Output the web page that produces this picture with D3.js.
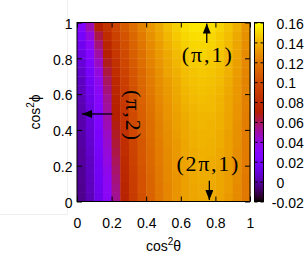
<!DOCTYPE html>
<html>
<head>
<meta charset="utf-8">
<script src="https://d3js.org/d3.v7.min.js"></script>
<style>
  body { margin: 0; background: #fff; }
  svg { display: block; }
</style>
</head>
<body>
<svg width="306" height="253"></svg>
<script>
// cell centres
var cosThetaCells = [0.025, 0.075, 0.125, 0.175, 0.225, 0.275, 0.325, 0.375, 0.425, 0.475,
                     0.525, 0.575, 0.625, 0.675, 0.725, 0.775, 0.825, 0.875, 0.925, 0.975];
// rows listed from top (cos^2 phi = 0.975) down to bottom
var cosPhiRows = [0.975, 0.925, 0.875, 0.825, 0.775, 0.725, 0.675, 0.625, 0.575, 0.525,
                  0.475, 0.425, 0.375, 0.325, 0.275, 0.225, 0.175, 0.125, 0.075, 0.025];
var zRows = [
  [0.026, 0.048, 0.070, 0.085, 0.097, 0.107, 0.116, 0.124, 0.131, 0.137, 0.143, 0.148, 0.152, 0.154, 0.154, 0.152, 0.149, 0.145, 0.139, 0.130],
  [0.020, 0.040, 0.062, 0.080, 0.094, 0.104, 0.113, 0.121, 0.129, 0.135, 0.141, 0.146, 0.150, 0.152, 0.152, 0.150, 0.147, 0.143, 0.137, 0.129],
  [0.015, 0.033, 0.056, 0.075, 0.090, 0.101, 0.111, 0.119, 0.127, 0.133, 0.139, 0.144, 0.148, 0.150, 0.150, 0.149, 0.146, 0.142, 0.136, 0.128],
  [0.012, 0.028, 0.050, 0.071, 0.087, 0.099, 0.109, 0.117, 0.125, 0.132, 0.137, 0.142, 0.146, 0.148, 0.149, 0.147, 0.145, 0.141, 0.135, 0.127],
  [0.009, 0.024, 0.045, 0.067, 0.084, 0.097, 0.107, 0.116, 0.124, 0.130, 0.136, 0.141, 0.145, 0.147, 0.147, 0.146, 0.144, 0.140, 0.134, 0.126],
  [0.007, 0.020, 0.040, 0.063, 0.081, 0.095, 0.105, 0.114, 0.122, 0.129, 0.135, 0.139, 0.143, 0.145, 0.146, 0.145, 0.143, 0.139, 0.133, 0.125],
  [0.005, 0.017, 0.036, 0.059, 0.078, 0.093, 0.104, 0.113, 0.121, 0.128, 0.133, 0.138, 0.142, 0.144, 0.145, 0.144, 0.142, 0.138, 0.132, 0.124],
  [0.004, 0.015, 0.033, 0.056, 0.076, 0.091, 0.102, 0.112, 0.120, 0.127, 0.132, 0.137, 0.141, 0.143, 0.144, 0.143, 0.141, 0.137, 0.131, 0.124],
  [0.003, 0.013, 0.030, 0.053, 0.074, 0.089, 0.101, 0.111, 0.119, 0.126, 0.131, 0.136, 0.140, 0.142, 0.143, 0.142, 0.140, 0.136, 0.131, 0.123],
  [0.002, 0.011, 0.028, 0.051, 0.072, 0.088, 0.100, 0.110, 0.118, 0.125, 0.130, 0.135, 0.139, 0.141, 0.142, 0.142, 0.140, 0.136, 0.130, 0.123],
  [0.001, 0.010, 0.026, 0.049, 0.070, 0.086, 0.099, 0.109, 0.117, 0.124, 0.130, 0.134, 0.138, 0.140, 0.141, 0.141, 0.139, 0.135, 0.130, 0.122],
  [0.001, 0.009, 0.024, 0.047, 0.068, 0.085, 0.098, 0.108, 0.116, 0.123, 0.129, 0.134, 0.137, 0.140, 0.141, 0.140, 0.139, 0.135, 0.129, 0.122],
  [0.000, 0.008, 0.022, 0.045, 0.066, 0.084, 0.097, 0.107, 0.116, 0.123, 0.128, 0.133, 0.137, 0.139, 0.140, 0.140, 0.138, 0.134, 0.129, 0.122],
  [0.000, 0.007, 0.021, 0.043, 0.064, 0.082, 0.096, 0.106, 0.115, 0.122, 0.128, 0.132, 0.136, 0.139, 0.140, 0.139, 0.138, 0.134, 0.129, 0.121],
  [-0.001, 0.006, 0.019, 0.041, 0.062, 0.081, 0.095, 0.106, 0.114, 0.121, 0.127, 0.132, 0.136, 0.138, 0.139, 0.139, 0.137, 0.134, 0.128, 0.121],
  [-0.001, 0.005, 0.018, 0.039, 0.060, 0.079, 0.094, 0.105, 0.114, 0.121, 0.127, 0.131, 0.135, 0.138, 0.139, 0.138, 0.137, 0.133, 0.128, 0.121],
  [-0.002, 0.005, 0.017, 0.037, 0.058, 0.078, 0.093, 0.104, 0.113, 0.120, 0.126, 0.131, 0.135, 0.137, 0.138, 0.138, 0.136, 0.133, 0.128, 0.121],
  [-0.002, 0.004, 0.016, 0.035, 0.056, 0.076, 0.092, 0.103, 0.112, 0.120, 0.126, 0.130, 0.134, 0.137, 0.138, 0.138, 0.136, 0.133, 0.128, 0.120],
  [-0.003, 0.004, 0.015, 0.034, 0.054, 0.075, 0.091, 0.103, 0.112, 0.119, 0.125, 0.130, 0.134, 0.136, 0.137, 0.137, 0.136, 0.133, 0.127, 0.120],
  [-0.003, 0.003, 0.014, 0.033, 0.053, 0.074, 0.090, 0.102, 0.111, 0.119, 0.125, 0.130, 0.134, 0.136, 0.137, 0.137, 0.135, 0.132, 0.127, 0.120]
];
var xTicks = [0, 0.2, 0.4, 0.6, 0.8, 1];
var xTickLabels = ["0", "0.2", "0.4", "0.6", "0.8", "1"];
var yTicks = [0, 0.2, 0.4, 0.6, 0.8, 1];
var yTickLabels = ["0", "0.2", "0.4", "0.6", "0.8", "1"];
var cbTicks = [-0.02, 0, 0.02, 0.04, 0.06, 0.08, 0.1, 0.12, 0.14, 0.16];
var cbTickLabels = ["-0.02", "0", "0.02", "0.04", "0.06", "0.08", "0.1", "0.12", "0.14", "0.16"];
var cbRange = [-0.02, 0.16];

// annotations: label, arrow tail, arrow tip, label anchor (data units), rotation
var notes = [
  {label: "(\u03c0,1)",  tail: [0.75, 0.885], tip: [0.75, 0.994], at: [0.75, 0.779], rot: 0, len: 50},
  {label: "(2\u03c0,1)", tail: [0.765, 0.116], tip: [0.765, 0.008], at: [0.754, 0.168], rot: 0, len: 62},
  {label: "(\u03c0,2)",  tail: [0.204, 0.489], tip: [0.029, 0.489], at: [0.283, 0.483], rot: 90, len: 50}
];

var svg = d3.select("svg");
var x = d3.scaleLinear().domain([0, 1]).range([77, 250]);
var y = d3.scaleLinear().domain([0, 1]).range([201.5, 22.5]);
var cbY = d3.scaleLinear().domain(cbRange).range([201.5, 22.5]);

// gnuplot default palette (rgbformulae 7,5,15)
function palette(t){
    t = Math.max(0, Math.min(1, t));
    var b = Math.max(0, Math.sin(2*Math.PI*t));
    return d3.rgb(255*Math.sqrt(t), 255*t*t*t, 255*b);
}
var color = d3.scaleSequential(palette).domain(cbRange).clamp(true);

// faint frame left over in the original picture
svg.append("path")
    .attr("d", "M67.5,0V214.5H0")
    .attr("fill", "none")
    .attr("stroke", "#efefef");

var halfW = (cosThetaCells[1] - cosThetaCells[0]) / 2;
var halfH = (cosPhiRows[0] - cosPhiRows[1]) / 2;
var cells = [];
zRows.forEach(function(row, r){
    row.forEach(function(v, c){
        cells.push({cx: cosThetaCells[c], cy: cosPhiRows[r], v: v});
    });
});
svg.append("g").selectAll("rect").data(cells).enter().append("rect")
    .attr("x", function(d){ return x(d.cx - halfW); })
    .attr("y", function(d){ return y(d.cy + halfH); })
    .attr("width", function(d){ return x(d.cx + halfW) - x(d.cx - halfW) + 0.4; })
    .attr("height", function(d){ return y(d.cy - halfH) - y(d.cy + halfH) + 0.4; })
    .attr("fill", function(d){ return color(d.v); });

// axes, inward ticks on all four sides
var font = "'Liberation Sans', Arial, Helvetica, sans-serif";
function styleAxis(g){
    g.select(".domain").remove();
    g.selectAll("line").attr("stroke", "#000");
    g.attr("font-family", font).attr("font-size", 14);
    g.selectAll("text").attr("fill", "#000");
}
svg.append("g").attr("transform", "translate(0,201.5)")
    .call(d3.axisBottom(x).tickValues(xTicks).tickSize(-5).tickPadding(16.5)
        .tickFormat(function(d, i){ return xTickLabels[i]; }))
    .call(styleAxis);
svg.append("g").attr("transform", "translate(0,22.5)")
    .call(d3.axisTop(x).tickValues(xTicks).tickSize(-5).tickFormat(""))
    .call(styleAxis);
svg.append("g").attr("transform", "translate(77,0)")
    .call(d3.axisLeft(y).tickValues(yTicks).tickSize(-5).tickPadding(4.5)
        .tickFormat(function(d, i){ return yTickLabels[i]; }))
    .call(styleAxis)
    .selectAll("text").attr("dy", "0.41em");
svg.append("g").attr("transform", "translate(250,0)")
    .call(d3.axisRight(y).tickValues(yTicks).tickSize(-5).tickFormat(""))
    .call(styleAxis);

svg.append("rect")
    .attr("x", x(0)).attr("y", y(1))
    .attr("width", x(1) - x(0)).attr("height", y(0) - y(1))
    .attr("fill", "none").attr("stroke", "#000").attr("stroke-width", 1);

// colour box
var grad = svg.append("defs").append("linearGradient")
    .attr("id", "cbgrad").attr("x1", 0).attr("y1", 1).attr("x2", 0).attr("y2", 0);
d3.range(0, 1.0001, 1/64).forEach(function(t){
    grad.append("stop").attr("offset", t).attr("stop-color", palette(t));
});
svg.append("rect")
    .attr("x", 254.5).attr("y", cbY(cbRange[1]))
    .attr("width", 9).attr("height", cbY(cbRange[0]) - cbY(cbRange[1]))
    .attr("fill", "url(#cbgrad)");
svg.append("g").attr("transform", "translate(263.5,0)")
    .call(d3.axisRight(cbY).tickValues(cbTicks).tickSize(-3).tickPadding(13)
        .tickFormat(function(d, i){ return cbTickLabels[i]; }))
    .call(styleAxis)
    .selectAll("text")
    .attr("dy", "0.41em")
    .attr("dx", function(d){ return d < 0 ? -4.7 : 0; });
svg.append("g").attr("transform", "translate(254.5,0)")
    .call(d3.axisLeft(cbY).tickValues(cbTicks).tickSize(-3).tickFormat(""))
    .call(styleAxis);
svg.append("rect")
    .attr("x", 254.5).attr("y", cbY(cbRange[1]))
    .attr("width", 9).attr("height", cbY(cbRange[0]) - cbY(cbRange[1]))
    .attr("fill", "none").attr("stroke", "#000");

// axis titles
var xl = svg.append("text")
    .attr("x", (x(0) + x(1)) / 2).attr("y", 250.5)
    .attr("text-anchor", "middle")
    .attr("font-family", font).attr("font-size", 14);
xl.append("tspan").text("cos");
xl.append("tspan").attr("font-size", 10).attr("dy", -6).text("2");
xl.append("tspan").attr("dy", 6).text("\u03b8");

var yl = svg.append("text")
    .attr("transform", "translate(40," + ((y(0) + y(1)) / 2) + ") rotate(-90)")
    .attr("text-anchor", "middle")
    .attr("font-family", font).attr("font-size", 14);
yl.append("tspan").text("cos");
yl.append("tspan").attr("font-size", 10).attr("dy", -6).text("2");
yl.append("tspan").attr("dy", 6).text("\u03d5");

// arrows and labels
svg.select("defs").append("marker")
    .attr("id", "head")
    .attr("markerUnits", "userSpaceOnUse")
    .attr("viewBox", "0 0 10 8")
    .attr("refX", 10).attr("refY", 4)
    .attr("markerWidth", 10).attr("markerHeight", 8)
    .attr("orient", "auto")
    .append("path").attr("d", "M0,0L10,4L0,8Z").attr("fill", "#000");

notes.forEach(function(n){
    svg.append("line")
        .attr("x1", x(n.tail[0])).attr("y1", y(n.tail[1]))
        .attr("x2", x(n.tip[0])).attr("y2", y(n.tip[1]))
        .attr("stroke", "#000").attr("stroke-width", 1.3)
        .attr("marker-end", "url(#head)");
    svg.append("text")
        .attr("transform", "translate(" + x(n.at[0]) + "," + y(n.at[1]) + ") rotate(" + n.rot + ")")
        .attr("text-anchor", "middle")
        .attr("font-family", "'Liberation Serif', 'Times New Roman', serif")
        .attr("font-size", 22)
        .attr("textLength", n.len).attr("lengthAdjust", "spacing")
        .text(n.label);
});
</script>
</body>
</html>
